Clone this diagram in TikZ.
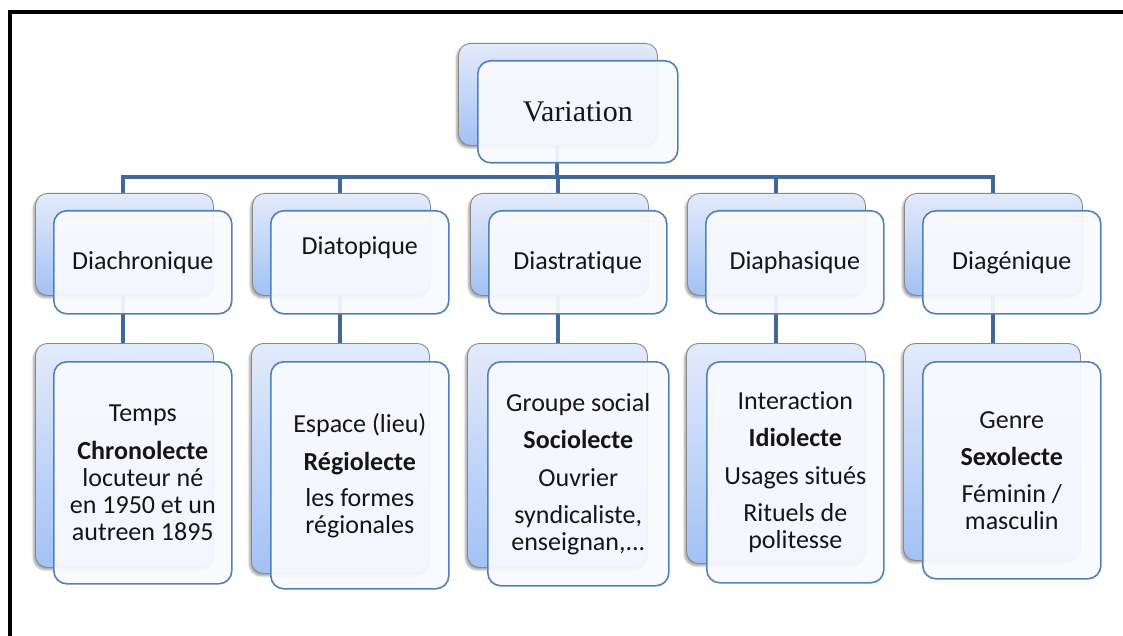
\documentclass[tikz,border=0pt]{standalone}
\usepackage{fontspec}
\setmainfont[RawFeature={-liga;-clig;-dlig;-calt}]{Carlito}
\newfontfamily\titlefont{Liberation Serif}
\usetikzlibrary{shadows.blur}

\definecolor{backtop}{HTML}{E3EBFB}
\definecolor{backbot}{HTML}{A3C1F4}
\definecolor{backline}{HTML}{8A8A8A}
\definecolor{frontline}{HTML}{4F81BD}
\definecolor{frontfill}{HTML}{F9FAFE}
\definecolor{busblue}{HTML}{41689A}
\definecolor{ink}{HTML}{151515}

\begin{document}
\begin{tikzpicture}[x=1pt,y=-1pt,
  backbox/.style={draw=backline, line width=0.9pt, rounded corners=12pt,
    top color=backtop, bottom color=backbot, anchor=north west,
    inner sep=0pt, minimum width=178pt, minimum height=102pt,
    blur shadow={shadow xshift=-2pt, shadow yshift=-2.5pt,
      shadow blur steps=6, shadow opacity=35}},
  frontbox/.style={draw=frontline, line width=1.6pt, rounded corners=13pt,
    fill=frontfill, fill opacity=0.93, text opacity=1, text=ink,
    anchor=north west, inner sep=2pt, align=center,
    minimum width=178pt, minimum height=102pt,
    font=\fontsize{26}{27}\selectfont},
  bus/.style={draw=busblue, line width=4pt},
  frameline/.style={draw=black, line width=4pt}
]
\useasboundingbox (0,0) rectangle (1123,636);

% outer frame (top and left edges)
\coordinate (fa) at (10,640);
\coordinate (fb) at (10,12);
\coordinate (fc) at (1127,12);
\draw[frameline] (fa) -- (fb) -- (fc);

% level of the bus line
\coordinate (busy) at (0,177);

% connectors, drawn under the boxes
\coordinate (t0) at (557,145);
\coordinate (m1) at (123,193);
\coordinate (m2) at (340,193);
\coordinate (m3) at (558,193);
\coordinate (m4) at (776,193);
\coordinate (m5) at (993,193);
\draw[bus] (t0) -- (t0 |- busy);
\draw[bus] (m1) -- (m1 |- busy) -- (m5 |- busy) -- (m5);
\draw[bus] (m2 |- busy) -- (m2);
\draw[bus] (m3 |- busy) -- (m3);
\draw[bus] (m4 |- busy) -- (m4);
\foreach \i in {1,...,5} {
  \draw[bus] (m\i) -- ++(0,150);
}

% root
\node[backbox, minimum width=199pt] (rootback) at (458,43) {};
\node[frontbox, minimum width=200pt, font=\titlefont\fontsize{30}{32}\selectfont]
  (root) at (477,60) {Variation};

% second level
\node[backbox] (mb1) at (35,193) {};
\node[frontbox, minimum height=103pt] (mf1) at (53,210) {Diachronique};
\node[backbox] (mb2) at (252,193) {};
\node[frontbox, minimum height=103pt] (mf2) at (270,210)
  {\raisebox{14pt}[0.75em][0.25em]{Diatopique}};
\node[backbox] (mb3) at (470,193) {};
\node[frontbox, minimum height=103pt] (mf3) at (488,210) {Diastratique};
\node[backbox] (mb4) at (687,193) {};
\node[frontbox, minimum height=103pt] (mf4) at (705,210) {Diaphasique};
\node[backbox] (mb5) at (904,193) {};
\node[frontbox, minimum height=103pt] (mf5) at (922,210) {Diagénique};

% third level
\node[backbox, minimum height=224pt] (bb1) at (35,343) {};
\node[frontbox, minimum height=222pt] (bf1) at (53,361)
  {Temps\\[11pt]\textbf{Chronolecte}\\locuteur né\\en 1950 et un\\autreen 1895};
\node[backbox, minimum height=230pt] (bb2) at (251,343) {};
\node[frontbox, minimum height=227pt] (bf2) at (270,361)
  {Espace (lieu)\\[11pt]\textbf{Régiolecte}\\[9pt]les formes\\régionales};
\node[backbox, minimum width=180pt, minimum height=224pt] (bb3) at (467,343) {};
\node[frontbox, minimum width=181pt, minimum height=224pt] (bf3) at (487,361)
  {Groupe social\\[10pt]\textbf{Sociolecte}\\[11pt]Ouvrier\\[10pt]syndicaliste,\\enseignan,...};
\node[backbox, minimum width=179pt, minimum height=220pt] (bb4) at (686,343) {};
\node[frontbox, minimum width=177pt, minimum height=221pt] (bf4) at (706,361)
  {Interaction\\[10pt]\textbf{Idiolecte}\\[11pt]Usages situés\\[10pt]Rituels de\\politesse};
\node[backbox, minimum width=177pt, minimum height=217pt] (bb5) at (903,343) {};
\node[frontbox, minimum height=217pt] (bf5) at (922,361)
  {Genre\\[10pt]\textbf{Sexolecte}\\[10pt]Féminin /\\masculin};
\end{tikzpicture}
\end{document}
